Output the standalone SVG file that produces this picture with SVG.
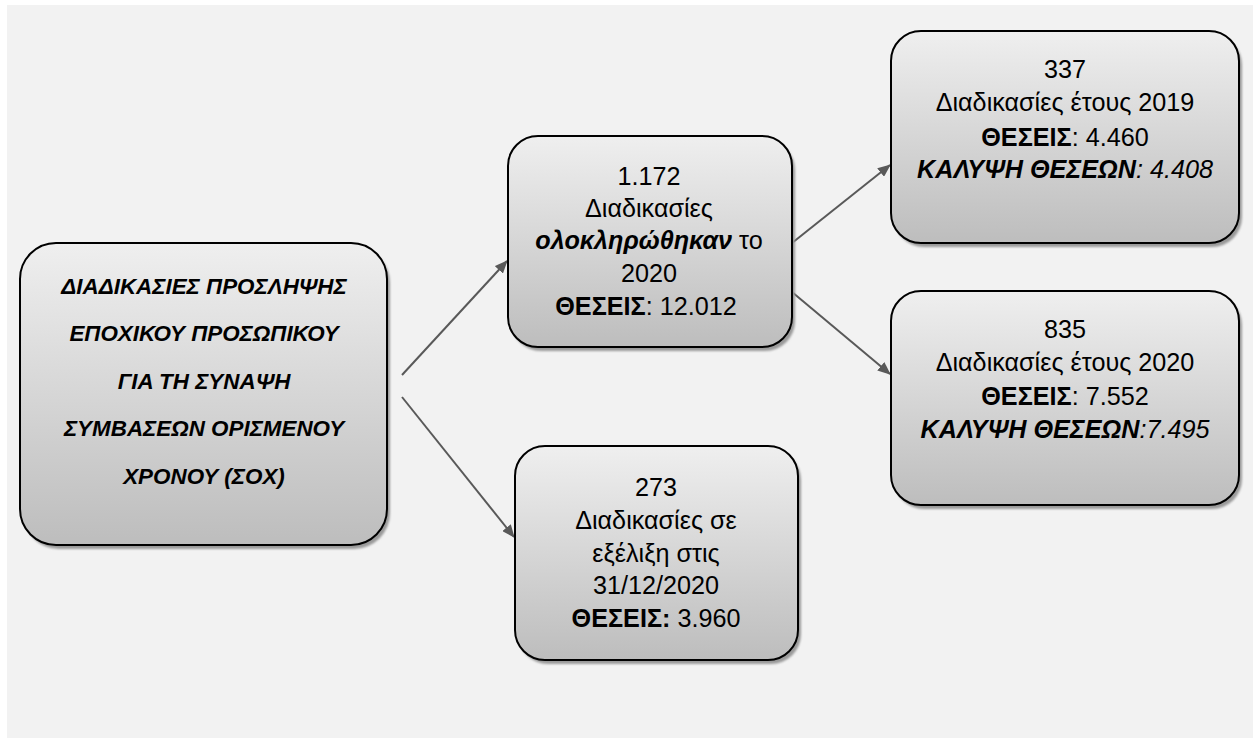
<svg xmlns="http://www.w3.org/2000/svg" width="1253" height="738" viewBox="0 0 1253 738">
<style>
.box{fill:url(#g);stroke:#000;stroke-width:2}
.sh{fill:#9a9a9a;filter:url(#blur)}
text{font-family:"Liberation Sans",Arial,sans-serif;fill:#000;text-anchor:middle}
.t{font-size:25.2px}
.h{font-size:22.4px;font-weight:bold;font-style:italic}
.b{font-weight:bold}
.i{font-style:italic}
.c{stroke:#595959;stroke-width:2;fill:none;marker-end:url(#arr)}
</style>
<defs>
<linearGradient id="g" x1="0" y1="0" x2="0" y2="1">
<stop offset="0" stop-color="#efefef"/>
<stop offset="1" stop-color="#bdbdbd"/>
</linearGradient>
<filter id="blur" x="-5%" y="-5%" width="110%" height="110%"><feGaussianBlur stdDeviation="1.2"/></filter>
<marker id="arr" markerWidth="13" markerHeight="11" refX="12" refY="5.5" orient="auto" markerUnits="userSpaceOnUse" viewBox="0 0 13 11">
<path d="M0,0 L13,5.5 L0,11 Z" fill="#595959"/>
</marker>
</defs>
<rect x="7" y="5" width="1246" height="733" fill="#f2f2f2"/>
<g id="connectors">
<line class="c" x1="402" y1="375" x2="507" y2="261"/>
<line class="c" x1="402" y1="397" x2="514" y2="537"/>
<line class="c" x1="792" y1="243" x2="890" y2="165"/>
<line class="c" x1="792" y1="292" x2="890" y2="374"/>
</g>
<g id="n1">
<rect class="sh" x="23" y="247" width="367" height="302" rx="36"/>
<rect class="box" x="20" y="243" width="367" height="302" rx="36"/>
<text class="h" x="204" y="294">ΔΙΑΔΙΚΑΣΙΕΣ ΠΡΟΣΛΗΨΗΣ</text>
<text class="h" x="204" y="341">ΕΠΟΧΙΚΟΥ ΠΡΟΣΩΠΙΚΟΥ</text>
<text class="h" x="204" y="389">ΓΙΑ ΤΗ ΣΥΝΑΨΗ</text>
<text class="h" x="204" y="436">ΣΥΜΒΑΣΕΩΝ ΟΡΙΣΜΕΝΟΥ</text>
<text class="h" x="204" y="484">ΧΡΟΝΟΥ (ΣΟΧ)</text>
</g>
<g id="n2">
<rect class="sh" x="511" y="140" width="284" height="211" rx="30"/>
<rect class="box" x="508" y="136" width="284" height="211" rx="30"/>
<text class="t" x="649" y="185">1.172</text>
<text class="t" x="649" y="217">Διαδικασίες</text>
<text class="t" x="649" y="249"><tspan class="b i">ολοκληρώθηκαν</tspan> το</text>
<text class="t" x="649" y="282">2020</text>
<text class="t" x="646" y="315"><tspan class="b">ΘΕΣΕΙΣ</tspan>: 12.012</text>
</g>
<g id="n3">
<rect class="sh" x="518" y="450" width="283" height="214" rx="30"/>
<rect class="box" x="515" y="446" width="283" height="214" rx="30"/>
<text class="t" x="656" y="496">273</text>
<text class="t" x="656" y="529">Διαδικασίες σε</text>
<text class="t" x="656" y="562">εξέλιξη στις</text>
<text class="t" x="656" y="594">31/12/2020</text>
<text class="t" x="656" y="627"><tspan class="b">ΘΕΣΕΙΣ:</tspan> 3.960</text>
</g>
<g id="n4">
<rect class="sh" x="894" y="35" width="348" height="212" rx="30"/>
<rect class="box" x="891" y="31" width="348" height="212" rx="30"/>
<text class="t" x="1065" y="78">337</text>
<text class="t" x="1065" y="111">Διαδικασίες έτους 2019</text>
<text class="t" x="1065" y="146"><tspan class="b">ΘΕΣΕΙΣ</tspan>: 4.460</text>
<text class="t i" x="1065" y="178"><tspan class="b">ΚΑΛΥΨΗ ΘΕΣΕΩΝ</tspan>: 4.408</text>
</g>
<g id="n5">
<rect class="sh" x="894" y="295" width="348" height="214" rx="30"/>
<rect class="box" x="891" y="291" width="348" height="214" rx="30"/>
<text class="t" x="1065" y="338">835</text>
<text class="t" x="1065" y="371">Διαδικασίες έτους 2020</text>
<text class="t" x="1065" y="405"><tspan class="b">ΘΕΣΕΙΣ</tspan>: 7.552</text>
<text class="t i" x="1065" y="438"><tspan class="b">ΚΑΛΥΨΗ ΘΕΣΕΩΝ</tspan>:7.495</text>
</g>
</svg>
